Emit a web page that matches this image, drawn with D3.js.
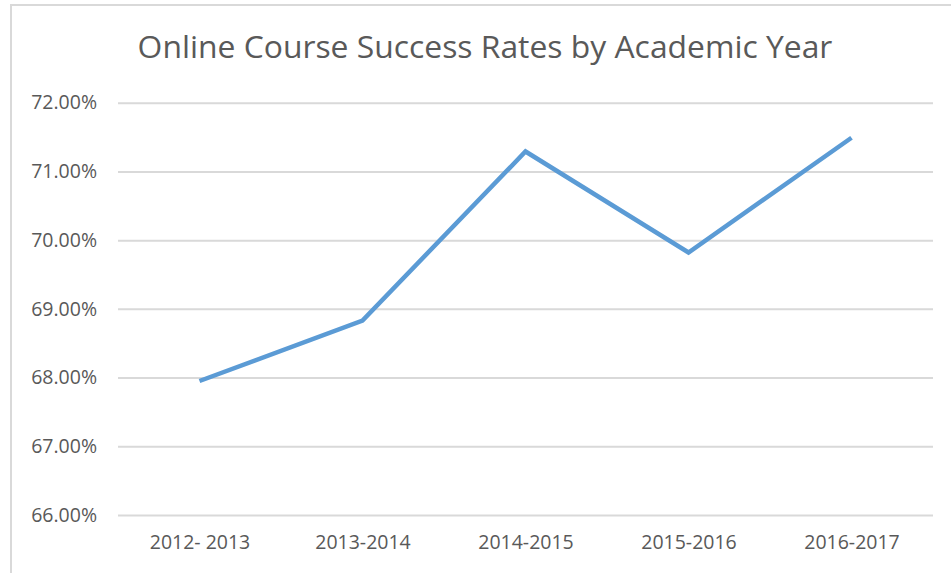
<!DOCTYPE html>
<html>
<head>
<meta charset="utf-8">
<script src="https://cdn.jsdelivr.net/npm/d3@7"></script>
<style>
  html, body { margin: 0; padding: 0; background: #fff; }
  svg { display: block; }
</style>
</head>
<body>
<svg id="chart" width="951" height="573"></svg>
<script>
const title = "Online Course Success Rates by Academic Year";
const categories = ["2012- 2013", "2013-2014", "2014-2015", "2015-2016", "2016-2017"];
const successRates = [67.95, 68.83, 71.29, 69.82, 71.49];
const yTicks = [66, 67, 68, 69, 70, 71, 72];

const W = 951, H = 573;
const svg = d3.select("#chart");
const font = "'Open Sans', 'Liberation Sans', sans-serif";
const textColor = "#595959";

// outer chart border
svg.append("rect")
  .attr("x", 11).attr("y", 5)
  .attr("width", W - 11 + 5).attr("height", H - 5 + 5)
  .attr("fill", "#fff").attr("stroke", "#d9d9d9").attr("stroke-width", 2);

const plot = { left: 118, right: 933, top: 102.7, bottom: 515 };

const x = d3.scalePoint().domain(categories).range([plot.left, plot.right]).padding(0.5);
const y = d3.scaleLinear().domain([66, 72]).range([plot.bottom, plot.top]);

// gridlines
const yAxis = d3.axisLeft(y)
  .tickValues(yTicks)
  .tickSize(-(plot.right - plot.left))
  .tickPadding(21)
  .tickFormat(d => d3.format(".2f")(d) + "%");

const gy = svg.append("g").attr("transform", `translate(${plot.left},0)`).call(yAxis);
gy.select(".domain").remove();
gy.selectAll(".tick line").attr("stroke", "#d9d9d9").attr("stroke-width", 2);
gy.selectAll(".tick text")
  .attr("fill", textColor)
  .style("font-family", font)
  .style("font-size", "19.5px");

// x axis labels
const xAxis = d3.axisBottom(x).tickSize(0).tickPadding(20);
const gx = svg.append("g").attr("transform", `translate(0,${plot.bottom})`).call(xAxis);
gx.select(".domain").remove();
gx.selectAll(".tick text")
  .attr("fill", textColor)
  .style("font-family", font)
  .style("font-size", "19.5px");

// line
const line = d3.line().x((d, i) => x(categories[i])).y(d => y(d));
svg.append("path")
  .datum(successRates)
  .attr("d", line)
  .attr("fill", "none")
  .attr("stroke", "#5b9bd5")
  .attr("stroke-width", 4.5)
  .attr("stroke-linejoin", "miter")
  .attr("stroke-linecap", "butt");

// title
const t = svg.append("text")
  .attr("x", 485).attr("y", 58)
  .attr("text-anchor", "middle")
  .attr("fill", textColor)
  .style("font-family", font)
  .style("font-size", "30px")
  .text(title);
const len = t.node().getComputedTextLength();
t.style("font-size", (30 * 695 / len) + "px");
</script>
</body>
</html>
